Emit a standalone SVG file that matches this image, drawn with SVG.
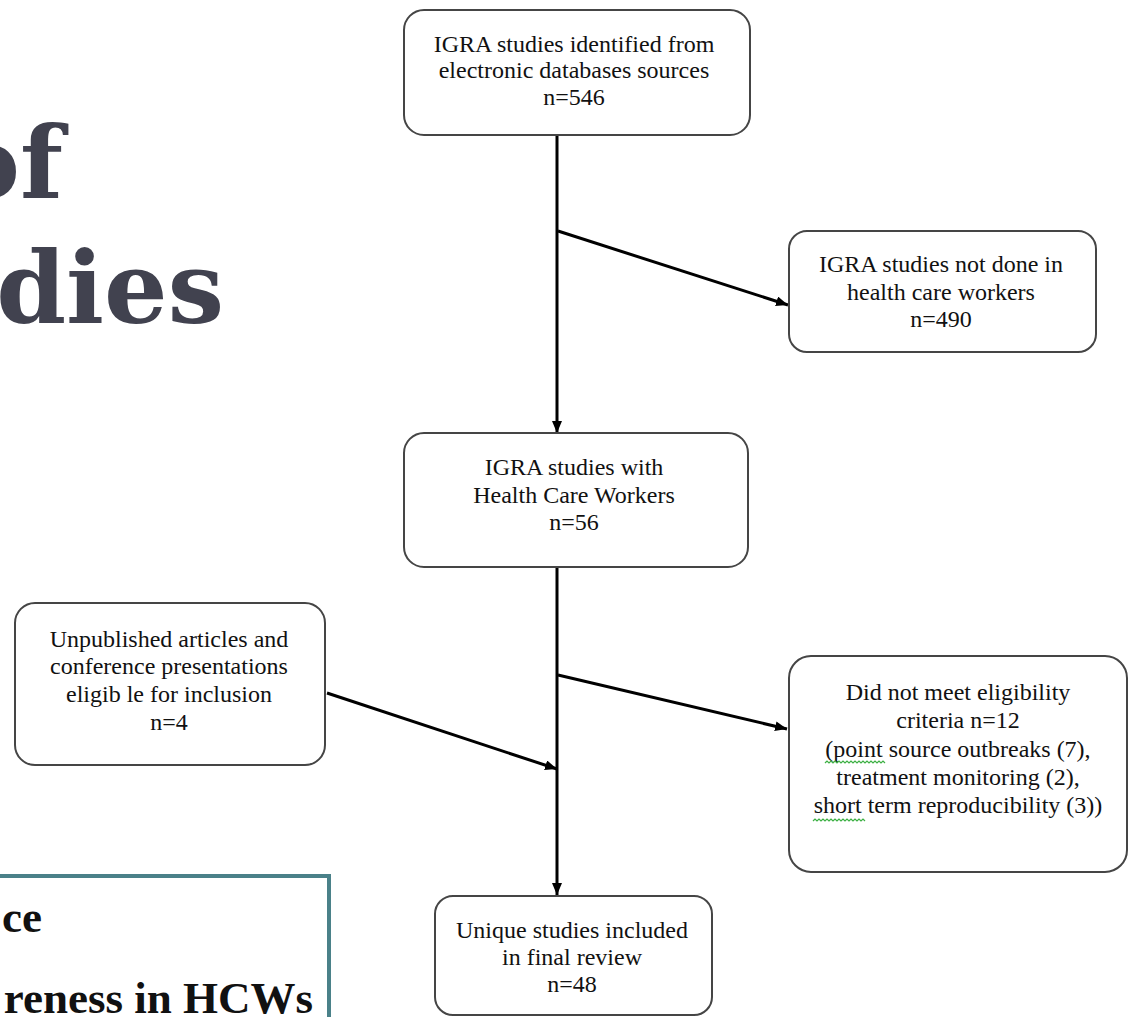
<svg xmlns="http://www.w3.org/2000/svg" width="1128" height="1017" viewBox="0 0 1128 1017">
  <style>
    .box { fill: #ffffff; stroke: #454545; stroke-width: 2; }
    .lbl { font-family: "Liberation Serif", "Times New Roman", serif; font-size: 24px; fill: #111111; text-anchor: middle; }
    .conn { stroke: #000000; stroke-width: 3; fill: none; }
    .title { font-family: "DejaVu Serif", serif; font-weight: bold; font-size: 100px; fill: #41424f; text-anchor: end; }
    .sub { font-family: "Liberation Serif", "Times New Roman", serif; font-weight: bold; font-size: 45px; fill: #111111; text-anchor: end; }
    .wavy { stroke: #3cb043; stroke-width: 1.2; fill: none; }
  </style>
  <defs>
    <marker id="arrow" markerUnits="userSpaceOnUse" markerWidth="13" markerHeight="11" refX="12" refY="5" orient="auto">
      <path d="M0,0 L12,5 L0,10 z" fill="#000000"/>
    </marker>
  </defs>
  <rect width="1128" height="1017" fill="#ffffff"/>

  <g id="title">
    <text class="title" x="63" y="198">of</text>
    <text class="title" x="224" y="323">dies</text>
  </g>

  <g id="subtitle-box">
    <rect x="-10" y="876" width="339" height="160" fill="#ffffff" stroke="#4a8189" stroke-width="4"/>
    <text class="sub" x="42" y="932">ce</text>
    <text class="sub" x="313" y="1013">reness in HCWs</text>
  </g>

  <g id="connectors">
    <path class="conn" d="M557,135 L557,433" marker-end="url(#arrow)"/>
    <path class="conn" d="M558,231 L788,305" marker-end="url(#arrow)"/>
    <path class="conn" d="M557,567 L557,895" marker-end="url(#arrow)"/>
    <path class="conn" d="M558,675 L787,729" marker-end="url(#arrow)"/>
    <path class="conn" d="M327,693 L557,769" marker-end="url(#arrow)"/>
  </g>

  <g id="n-identified">
    <rect class="box" x="404" y="10" width="346" height="125" rx="20"/>
    <text class="lbl" x="574" y="52">IGRA studies identified from</text>
    <text class="lbl" x="574" y="78">electronic databases sources</text>
    <text class="lbl" x="574" y="105">n=546</text>
  </g>

  <g id="n-excluded-nonhcw">
    <rect class="box" x="789" y="231" width="307" height="121" rx="18"/>
    <text class="lbl" x="941" y="272">IGRA studies not done in</text>
    <text class="lbl" x="941" y="300">health care workers</text>
    <text class="lbl" x="941" y="327">n=490</text>
  </g>

  <g id="n-hcw">
    <rect class="box" x="404" y="433" width="344" height="134" rx="20"/>
    <text class="lbl" x="574" y="475">IGRA studies with</text>
    <text class="lbl" x="574" y="503">Health Care Workers</text>
    <text class="lbl" x="574" y="530">n=56</text>
  </g>

  <g id="n-unpublished">
    <rect class="box" x="15" y="603" width="310" height="162" rx="20"/>
    <text class="lbl" x="169" y="647">Unpublished articles and</text>
    <text class="lbl" x="169" y="674">conference presentations</text>
    <text class="lbl" x="169" y="702">eligib le for inclusion</text>
    <text class="lbl" x="169" y="730">n=4</text>
  </g>

  <g id="n-ineligible">
    <rect class="box" x="789" y="656" width="338" height="216" rx="22"/>
    <text class="lbl" x="958" y="700">Did not meet eligibility</text>
    <text class="lbl" x="958" y="728">criteria n=12</text>
    <text class="lbl" x="958" y="757">(point source outbreaks (7),</text>
    <text class="lbl" x="958" y="785">treatment monitoring (2),</text>
    <text class="lbl" x="958" y="813">short term reproducibility (3))</text>
    <path class="wavy" d="M825,763 l2,-2 l2,2 l2,-2 l2,2 l2,-2 l2,2 l2,-2 l2,2 l2,-2 l2,2 l2,-2 l2,2 l2,-2 l2,2 l2,-2 l2,2 l2,-2 l2,2 l2,-2 l2,2 l2,-2 l2,2 l2,-2 l2,2 l2,-2 l2,2 l2,-2 l2,2 l2,-2 l2,2"/>
    <path class="wavy" d="M813,821 l2,-2 l2,2 l2,-2 l2,2 l2,-2 l2,2 l2,-2 l2,2 l2,-2 l2,2 l2,-2 l2,2 l2,-2 l2,2 l2,-2 l2,2 l2,-2 l2,2 l2,-2 l2,2 l2,-2 l2,2 l2,-2 l2,2 l2,-2 l2,2"/>
  </g>

  <g id="n-included">
    <rect class="box" x="435" y="896" width="277" height="119" rx="18"/>
    <text class="lbl" x="572" y="938">Unique studies included</text>
    <text class="lbl" x="572" y="965">in final review</text>
    <text class="lbl" x="572" y="992">n=48</text>
  </g>
</svg>
